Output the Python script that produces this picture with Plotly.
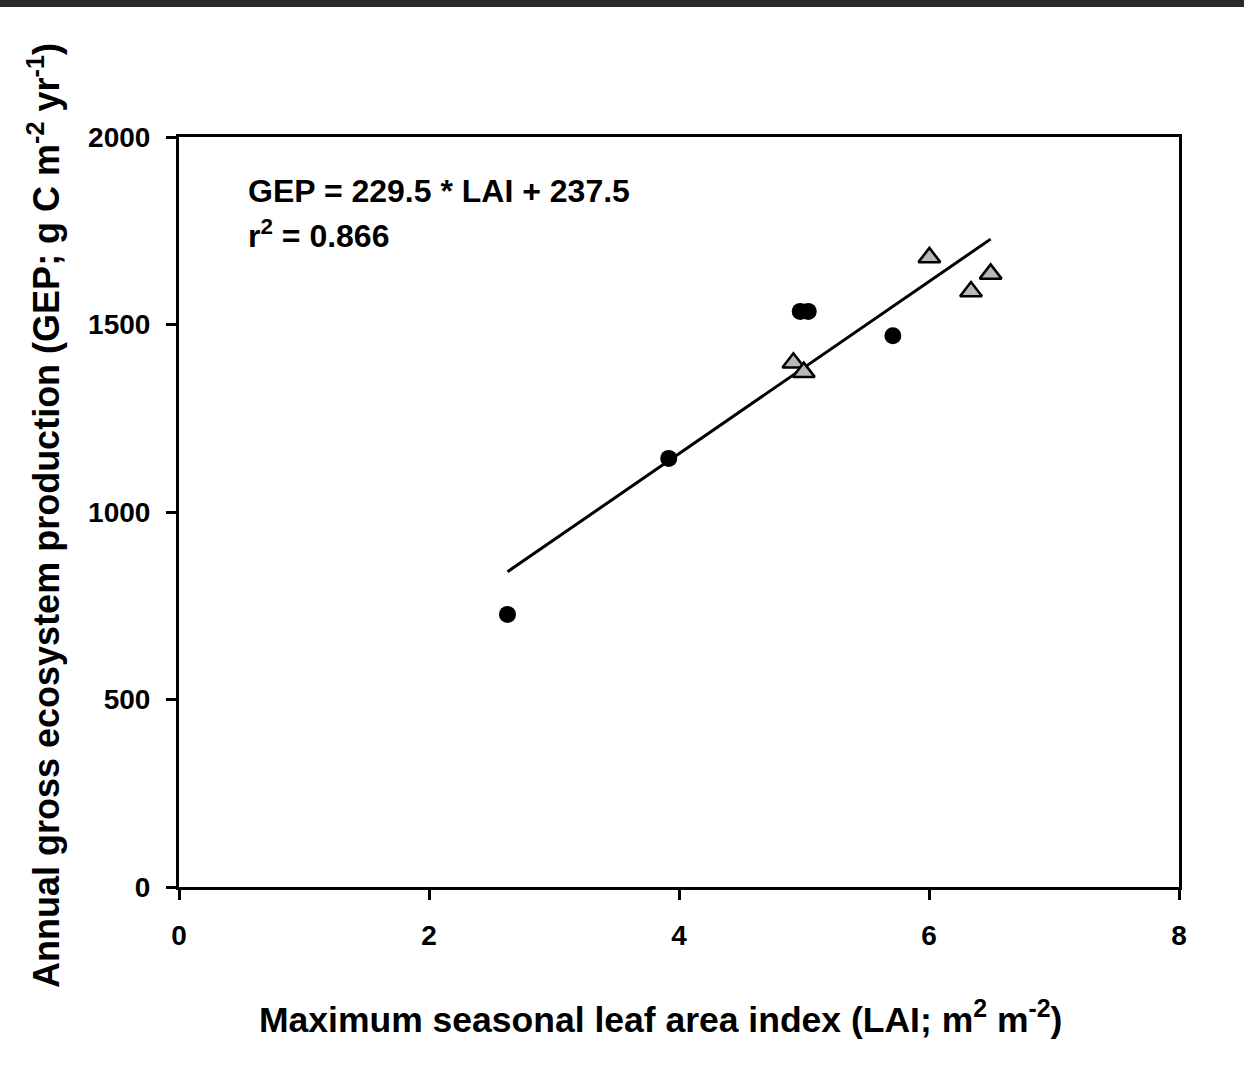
import plotly.graph_objects as go

# Maximum seasonal LAI (m2 m-2) and annual GEP (g C m-2 yr-1)
lai_circle = [2.628, 3.918, 4.970, 5.034, 5.711]
gep_circle = [727, 1143, 1535, 1535, 1470]

lai_triangle = [4.915, 4.998, 6.003, 6.336, 6.493]
gep_triangle = [1398, 1373, 1679, 1588, 1635]

# Linear regression reported on the chart
slope = 229.5
intercept = 237.5
r_squared = 0.866

x_ticks = [0, 2, 4, 6, 8]
y_ticks = [0, 500, 1000, 1500, 2000]

all_lai = lai_circle + lai_triangle
fit_x = [min(all_lai), max(all_lai)]
fit_y = [slope * v + intercept for v in fit_x]

FONT = "Liberation Sans, Arial, sans-serif"

W, H = 1244, 1090
L, R, T, B = 179, 65, 137, 203


def px_x(px):
    return (px - L) / (W - L - R)


def px_y(py):
    return (H - B - py) / (H - B - T)


fig = go.Figure()

fig.add_trace(go.Scatter(
    x=fit_x, y=fit_y, mode="lines",
    line=dict(color="black", width=3),
    showlegend=False, hoverinfo="skip",
))

fig.add_trace(go.Scatter(
    x=lai_circle, y=gep_circle, mode="markers",
    marker=dict(symbol="circle", size=17, color="black",
                line=dict(width=0)),
    showlegend=False,
))

fig.add_trace(go.Scatter(
    x=lai_triangle, y=gep_triangle, mode="markers",
    marker=dict(symbol="triangle-up", size=19, color="#b8b8b8",
                line=dict(color="black", width=2.5)),
    showlegend=False,
))

axis_common = dict(
    showgrid=False, zeroline=False,
    showline=True, linecolor="black", linewidth=3, mirror=True,
    ticks="outside", ticklen=10, tickwidth=3, tickcolor="black",
    tickfont=dict(family=FONT, size=28, color="black", weight="bold"),
)

fig.update_xaxes(range=[0, 8], tickvals=x_ticks, ticklabelstandoff=11,
                 **axis_common)
fig.update_yaxes(range=[0, 2000], tickvals=y_ticks, ticklabelstandoff=10,
                 **axis_common)

annotations = [
    dict(text=f"GEP = {slope} * LAI + {intercept}",
         x=px_x(246), y=px_y(191), xanchor="left", yanchor="middle",
         font=dict(family=FONT, size=32, color="black", weight="bold")),
    dict(text=f"r<sup>2</sup> = {r_squared}",
         x=px_x(246), y=px_y(234), xanchor="left", yanchor="middle",
         font=dict(family=FONT, size=32, color="black", weight="bold")),
    dict(text="Maximum seasonal leaf area index (LAI; m<sup>2</sup> m<sup>-2</sup>)",
         x=px_x(660), y=px_y(1017), xanchor="center", yanchor="middle",
         font=dict(family=FONT, size=35.5, color="black", weight="bold")),
    dict(text="Annual gross ecosystem production (GEP; g C m<sup>-2</sup> yr<sup>-1</sup>)",
         x=px_x(44), y=px_y(516), xanchor="center", yanchor="middle",
         textangle=-90,
         font=dict(family=FONT, size=36, color="black", weight="bold")),
]
for a in annotations:
    a.update(xref="paper", yref="paper", showarrow=False)

fig.update_layout(
    width=W, height=H,
    margin=dict(l=L, r=R, t=T, b=B),
    paper_bgcolor="white", plot_bgcolor="white",
    annotations=annotations,
    shapes=[dict(type="rect", xref="paper", yref="paper",
                 x0=px_x(0), x1=px_x(W), y0=px_y(7), y1=px_y(0),
                 fillcolor="#2b2b2b", line=dict(width=0), layer="above")],
)

fig.write_html("out.html")
